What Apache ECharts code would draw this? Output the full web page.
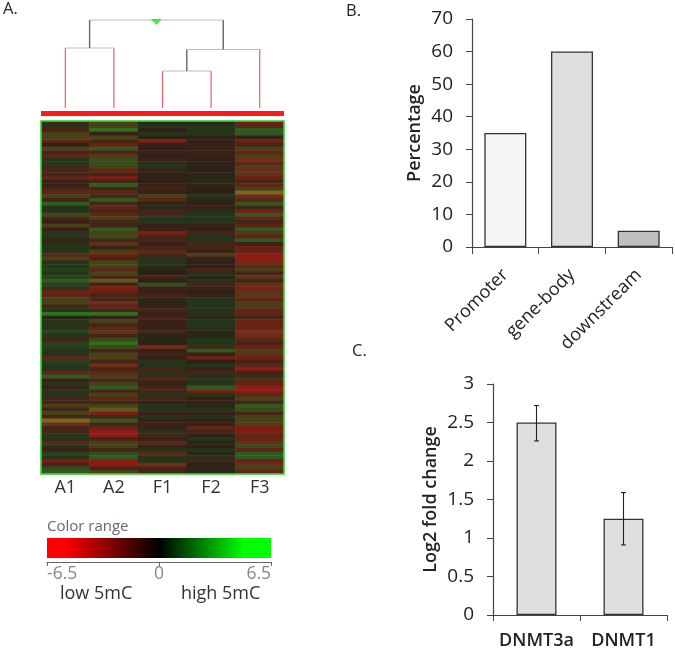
<!DOCTYPE html>
<html><head><meta charset="utf-8">
<style>html,body{margin:0;padding:0;background:#fff}#c{width:675px;height:651px}</style>
<script src="https://cdn.jsdelivr.net/npm/echarts@6/dist/echarts.min.js"></script>
</head><body><div id="c"></div>
<script>
const samples = ['A1','A2','F1','F2','F3'];
const colA1 = [-3,1,-3,5,5,-4,-1,5,-3,-4,1,1,-3,-3,-3,-4,-2,-2,-3,-4,5,-3,3,1,
  1,4.5,-3,-2,5,-2,1,1,-2,0.5,1,1,-4,5,1,1,2,1,2,3,2,1,-5,-4,
  5,5,-3,1,3.8,0,1,0.5,1,2,1,-3,2,2,1,1,-4,2,1,1.5,-4,3,-2,1,
  -2,1,1,-3,-3,5,-3,5,-3,6.5,-4.5,-3,-3,1,1,-4,1,-2,2,1,-5.5,-3,2.5,3];
const colA2 = [5,5,3.5,-2,5,-3,-5,3,-3,-3.5,2.5,4.2,4.2,-5,-3,-5.5,-3,3,-3,-4,-3,3,-3,-4,
  -3,-4,5,-3,-3,3,5,4.5,-3,-3.5,-2,5,-5,-3,5,4.5,-4,5,-3,6,-3,-5.5,-5,-3,
  -3,-4.5,-4,-3,3.5,-2,5,-3,-4,-3.5,-3,4.2,3.6,4.2,-3,5,5,-3,-4.5,-3,-4,5,-3,5,
  3,-3,5,-4,-3,5,6,-5.5,-3,3,-3,-4,-6,-6,-3,5,5,-3,2.5,3,-6,-6,-3,5];
const colF1 = [0,1,-1,1,-1,-5.5,-2,-1,-2,-1,-1.5,0.5,1,-2,-1,-1,-1,-2,-3,-2,5,-4,0,0,
  -3,-3,1,1,-2,-2,-5.5,-3,-3,-2,-3,-4,-3,1,1,0.5,0,-1,-3,-1,2.5,-2,-2,-3,
  0,0,-2,-3,-2,-3,-2,-2,-2,-3,0,0,-1,-4.5,-2,-3,-2,1,0.5,-3,1,-3,-3,-2,
  -3,-3,1,-3,-2,1,0.5,-2,1,-2,-2,-2,1,-3,-2,-4,-2,1,-4,1,1,-4.5,-3,-3];
const colF2 = [0,1,1,1,-1,-1,-2,-2,-2,-2,-1,-1,-1,-1,-0.5,-0.5,-0.5,-0.5,-1,-1,1,-0.5,-1,-2,
  0.5,1,1,1,-2,-1,-3,1.5,1,-3,-3,-2,5,-2,-1,-1,-3,0.5,-0.5,1,-3,-2,-1,-2,
  1,1,1,0.5,0.5,0,1,1,0.5,0,0,1,1,-3,3,-2,-5,-1,1,-2,-3,0.5,1,1,
  3,-5.5,1,-1,-2,0,1,-1,1,-1,-2,-4,-3,-1,1,0,-1,1,0,0.5,-3,-1,-0.5,0];
const colF3 = [-5,-4,3,3,-1,-5,-3,5,-4,5,-4.5,-4,5,-4.5,-3.5,-5,-3,-4,5,6.5,-4.5,-4,3,-3,
  -5,3,-4,-3,-4,3,-3.5,-4,3,-2,-5,-4,-6,-6,-4.5,-4,5,-3,-3.5,-3,-3.5,-5.5,-3.5,-3.5,
  -4,5,5,-4,-4,-3,-5,-4,-5,-4.5,-4.5,-4,-3,-5,5,-3.5,-5,-3,-4,-6,-3,1,-4,-4,
  -6,-6,-4,5,-3,3,4.2,-3,5,5,5,-5.5,-5.5,-4,-5,-3.5,4.2,-4,3,3,-5,-3.5,5,-4];
const heatColumns = [colA1,colA2,colF1,colF2,colF3];

// dendrogram: [x1, h1, x2, h2, kind], x in sample units, h = merge height
const dendroSegments = [
  [0.5,8,0.5,68,'leaf'],[1.5,8,1.5,68,'leaf'],[0.5,68,1.5,68,'bridge'],
  [2.5,8,2.5,45,'leaf'],[3.5,8,3.5,45,'leaf'],[2.5,45,3.5,45,'bridge'],
  [4.5,8,4.5,66.5,'leaf'],[3,45,3,66.5,'stem'],[3,66.5,4.5,66.5,'bridge'],
  [1,68,1,96,'stem'],[3.75,66.5,3.75,96,'stem'],[1,96,3.75,96,'bridge'],
  [0,2.5,5,2.5,'bar']
];
const dendroRoot = [2.375,94];

const regionCats = ['Promoter','gene-body','downstream'];
const regionVals = [35,60,5];
const regionCols = ['#f5f5f5','#dfdfdf','#bfbfbf'];
const geneCats = ['DNMT3a','DNMT1'];
const geneVals = [2.5,1.25];
const geneLow = [2.26,0.91];
const geneHigh = [2.72,1.59];

const FONT = '"Open Sans"';
const INK = '#222';
const segStyle = {
  leaf:{stroke:'#ee5f6c',lineWidth:1.2},
  bridge:{stroke:'#bdbdbd',lineWidth:1.2},
  stem:{stroke:'#666',lineWidth:1.4},
  bar:{stroke:'#ff1a1a',lineWidth:5}
};
const heatData = [];
heatColumns.forEach((col,c)=>col.forEach((v,r)=>heatData.push([c,r,v])));

const note = (text,x,y,size,color,weight)=>({type:'text',x,y,silent:true,
  style:{text,x:0,y:0,fontFamily:FONT,fontSize:size,fontWeight:weight||400,fill:color||INK,textVerticalAlign:'middle'}});

const hiddenAxis = (i,min,max,extra)=>Object.assign({type:'value',gridIndex:i,min,max,show:false},extra||{});

const chart = echarts.init(document.getElementById('c'),null,{renderer:'canvas'});
chart.setOption({
  animation:false,
  backgroundColor:'#fff',
  grid:[
    {left:41,top:0,width:243,height:116},
    {left:41,top:121,width:243,height:353},
    {left:47,top:561,width:224,height:1},
    {left:472,top:19,width:200,height:228},
    {left:493,top:384,width:174,height:231}
  ],
  xAxis:[
    hiddenAxis(0,0,5),
    {type:'category',gridIndex:1,data:samples,axisLine:{show:false},axisTick:{show:false},
      axisLabel:{fontFamily:FONT,fontSize:18,color:'#333',margin:5}},
    {type:'value',gridIndex:2,min:-6.5,max:6.5,interval:6.5,position:'bottom',splitLine:{show:false},
      axisLine:{lineStyle:{color:'#666',width:1.2}},axisTick:{inside:false,length:4,lineStyle:{color:'#666'}},
      axisLabel:{fontFamily:FONT,fontSize:17.5,color:'#888',margin:3,alignMinLabel:'left',alignMaxLabel:'right',
        formatter:v=>String(v)}},
    {type:'category',gridIndex:3,data:regionCats,axisLine:{lineStyle:{color:'#444',width:1.2}},
      axisTick:{show:true,length:7,alignWithLabel:false,lineStyle:{color:'#444'}},
      axisLabel:{interval:0,rotate:45,fontFamily:FONT,fontSize:18,color:INK,margin:25,fontWeight:500}},
    {type:'category',gridIndex:4,data:geneCats,axisLine:{lineStyle:{color:'#444',width:1.2}},
      axisTick:{show:true,length:6,alignWithLabel:false,lineStyle:{color:'#444'}},
      axisLabel:{interval:0,fontFamily:FONT,fontSize:18,fontWeight:600,color:INK,margin:17}}
  ],
  yAxis:[
    hiddenAxis(0,0,116),
    {type:'category',gridIndex:1,inverse:true,show:false,data:colA1.map((_,i)=>i)},
    {type:'value',gridIndex:2,show:false,min:0,max:1},
    {type:'value',gridIndex:3,min:0,max:70,interval:10,splitLine:{show:false},
      axisLine:{show:true,lineStyle:{color:'#444',width:1.2}},axisTick:{show:true,length:6,lineStyle:{color:'#444'}},
      axisLabel:{fontFamily:FONT,fontSize:19,fontWeight:500,color:INK,margin:19},
      name:'Percentage',nameLocation:'middle',nameRotate:90,nameGap:48,
      nameTextStyle:{fontFamily:FONT,fontSize:18,fontWeight:600,color:INK}},
    {type:'value',gridIndex:4,min:0,max:3,interval:0.5,splitLine:{show:false},
      axisLine:{show:true,lineStyle:{color:'#444',width:1.2}},axisTick:{show:true,length:6,lineStyle:{color:'#444'}},
      axisLabel:{fontFamily:FONT,fontSize:19,fontWeight:500,color:INK,margin:19},
      name:'Log2 fold change',nameLocation:'middle',nameRotate:90,nameGap:53,
      nameTextStyle:{fontFamily:FONT,fontSize:18,fontWeight:600,color:INK}}
  ],
  visualMap:[{
    show:false,type:'piecewise',seriesIndex:2,dimension:2,min:-6.5,max:6.5,
    pieces:[
      {lte:-6,color:'#8e1c14'},{gt:-6,lte:-5.25,color:'#7c1e14'},{gt:-5.25,lte:-4.75,color:'#6e2014'},
      {gt:-4.75,lte:-4.25,color:'#702e18'},{gt:-4.25,lte:-3.75,color:'#5e2616'},{gt:-3.75,lte:-3.25,color:'#5c3418'},
      {gt:-3.25,lte:-2.5,color:'#452518'},{gt:-2.5,lte:-1.5,color:'#392118'},{gt:-1.5,lte:-0.75,color:'#2f2117'},
      {gt:-0.75,lte:0.25,color:'#2b2716'},{gt:0.25,lte:0.75,color:'#2a2f18'},{gt:0.75,lte:1.5,color:'#24351a'},
      {gt:1.5,lte:2.25,color:'#2a3f1b'},{gt:2.25,lte:2.75,color:'#314e1c'},{gt:2.75,lte:3.25,color:'#305a1e'},
      {gt:3.25,lte:4,color:'#2c7020'},{gt:4,lte:4.75,color:'#3d4a18'},{gt:4.75,lte:5.5,color:'#4a4016'},
      {gt:5.5,lte:6.25,color:'#5e5a1a'},{gt:6.25,color:'#75691e'}
    ]
  }],
  graphic:[
    {type:'rect',shape:{x:41,y:121,width:243,height:353},z:50,silent:true,style:{fill:'none',stroke:'#35e035',lineWidth:1.5}},
    {type:'rect',shape:{x:47,y:538,width:224,height:20},silent:true,style:{fill:new echarts.graphic.LinearGradient(0,0,1,0,[
      {offset:0,color:'#ff0000'},{offset:0.08,color:'#ff0000'},{offset:0.5,color:'#000000'},{offset:0.88,color:'#00ff00'},{offset:1,color:'#00ff00'}])}},
    note('A.',3,9,16.5,INK,500),
    note('B.',346,11,16.5,INK,500),
    note('C.',352,351,16.5,INK,500),
    note('Color range',47,527,15,'#667'),
    note('low 5mC',60,594,18,'#333'),
    note('high 5mC',181,594,18,'#333')
  ],
  series:[
    {type:'custom',xAxisIndex:0,yAxisIndex:0,silent:true,data:dendroSegments,
      encode:{x:[0,2],y:[1,3]},
      renderItem:(p,api)=>{
        const a=api.coord([api.value(0),api.value(1)]),b=api.coord([api.value(2),api.value(3)]);
        const kind=dendroSegments[p.dataIndex][4];
        return {type:'line',shape:{x1:a[0],y1:a[1],x2:b[0],y2:b[1]},style:Object.assign({},segStyle[kind])};
      }},
    {type:'scatter',xAxisIndex:0,yAxisIndex:0,silent:true,data:[dendroRoot],symbol:'triangle',symbolRotate:180,symbolSize:[11,6],
      itemStyle:{color:'#22e022'},z:5},
    {type:'heatmap',xAxisIndex:1,yAxisIndex:1,silent:true,data:heatData,progressive:0,itemStyle:{borderWidth:0}},
    {type:'bar',xAxisIndex:3,yAxisIndex:3,barWidth:42,silent:true,
      data:regionVals.map((v,i)=>({value:v,itemStyle:{color:regionCols[i]}})),
      itemStyle:{borderColor:'#333',borderWidth:1.3}},
    {type:'bar',xAxisIndex:4,yAxisIndex:4,barWidth:40,silent:true,data:geneVals,
      itemStyle:{color:'#dfdfdf',borderColor:'#333',borderWidth:1.3}},
    {type:'custom',xAxisIndex:4,yAxisIndex:4,silent:true,z:5,
      data:geneCats.map((c,i)=>[i,geneLow[i],geneHigh[i]]),encode:{x:0,y:[1,2]},
      renderItem:(p,api)=>{
        const lo=api.coord([api.value(0),api.value(1)]),hi=api.coord([api.value(0),api.value(2)]);
        const s={stroke:'#222',lineWidth:1.1},w=2.5;
        return {type:'group',children:[
          {type:'line',shape:{x1:lo[0],y1:lo[1],x2:hi[0],y2:hi[1]},style:s},
          {type:'line',shape:{x1:lo[0]-w,y1:lo[1],x2:lo[0]+w,y2:lo[1]},style:s},
          {type:'line',shape:{x1:hi[0]-w,y1:hi[1],x2:hi[0]+w,y2:hi[1]},style:s}
        ]};
      }}
  ]
});
</script></body></html>
